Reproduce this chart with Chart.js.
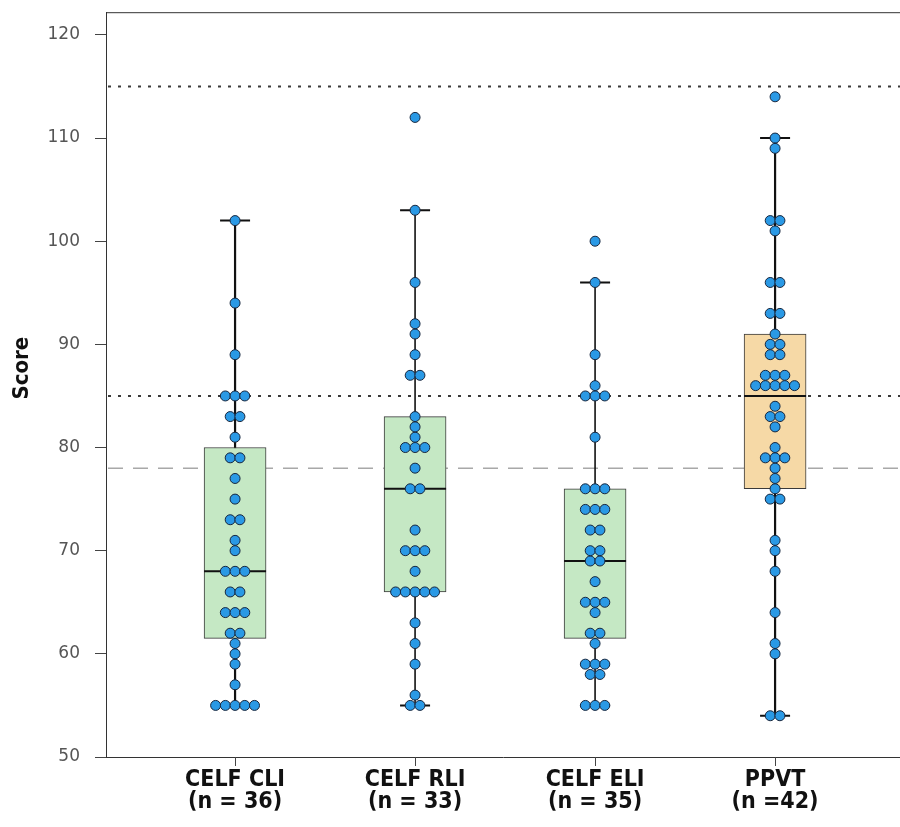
<!DOCTYPE html>
<html>
<head>
<meta charset="utf-8">
<script src="https://cdn.jsdelivr.net/npm/chart.js@4"></script>
<style>
  body { margin: 0; background: #fff; overflow: hidden; }
  #wrap { width: 900px; height: 827px; }
</style>
</head>
<body>
<div id="wrap"><canvas id="chart_canvas" width="900" height="827"></canvas></div>
<script>
// groups along the x axis
const categories = ['CELF CLI', 'CELF RLI', 'CELF ELI', 'PPVT'];
const nLabels = ['(n = 36)', '(n = 33)', '(n = 35)', '(n =42)'];

// individual scores, one entry per dot
const cliScores = [102, 94, 89, 85, 85, 85, 83, 83, 81, 79, 79, 77, 75, 73, 73, 71, 70,
    68, 68, 68, 66, 66, 64, 64, 64, 62, 62, 61, 60, 59, 57, 55, 55, 55, 55, 55];
const rliScores = [112, 103, 96, 92, 91, 89, 87, 87, 83, 82, 81, 80, 80, 80, 78, 76, 76,
    72, 70, 70, 70, 68, 66, 66, 66, 66, 66, 63, 61, 59, 56, 55, 55];
const eliScores = [100, 96, 89, 86, 85, 85, 85, 81, 76, 76, 76, 74, 74, 74, 72, 72, 70, 70,
    69, 69, 67, 65, 65, 65, 64, 62, 62, 61, 59, 59, 59, 58, 58, 55, 55, 55];
const ppvtScores = [114, 110, 109, 102, 102, 101, 96, 96, 93, 93, 91, 90, 90, 89, 89,
    87, 87, 87, 86, 86, 86, 86, 86, 84, 83, 83, 82, 80, 79, 79, 79, 78, 77, 76, 75, 75,
    71, 70, 68, 64, 61, 60, 54, 54];

// box plot summaries
const lowerQuartile = [61.5, 66, 61.5, 76];
const upperQuartile = [80, 83, 76, 91];
const medians = [68, 76, 69, 85];
const whiskerLow = [55, 55, 55, 54];
const whiskerHigh = [102, 103, 96, 110];

// reference lines
const dottedRefs = [115, 85];
const dashedRef = 78;

const yTicks = [50, 60, 70, 80, 90, 100, 110, 120];
const yTitle = 'Score';

const allScores = [cliScores, rliScores, eliScores, ppvtScores];
const boxColors = ['#c5e8c4', '#c5e8c4', '#c5e8c4', '#f6d9a6'];
const dotGap = 0.054; // horizontal spacing between stacked dots, in x units

// stack equal values side by side, centred on the group
var dots = [];
allScores.forEach(function(scores, g) {
    var counts = {};
    scores.forEach(function(v) { counts[v] = (counts[v] || 0) + 1; });
    Object.keys(counts).forEach(function(key) {
        var k = counts[key];
        for (var i = 0; i < k; i++) {
            dots.push({ x: g + 1 + (i - (k - 1) / 2) * dotGap, y: Number(key) });
        }
    });
});

var boxPlotDecor = {
    id: 'boxPlotDecor',
    beforeDatasetsDraw: function(chart) {
        var ctx = chart.ctx, area = chart.chartArea;
        var xs = chart.scales.x, ys = chart.scales.y;
        ctx.save();
        // frame top
        ctx.strokeStyle = '#333';
        ctx.lineWidth = 1;
        ctx.beginPath();
        ctx.moveTo(area.left, area.top + 0.5);
        ctx.lineTo(area.right, area.top + 0.5);
        ctx.stroke();
        // tick marks under the category axis
        ctx.strokeStyle = '#444';
        categories.forEach(function(c, i) {
            var x = Math.round(xs.getPixelForValue(i + 1)) + 0.5;
            ctx.beginPath();
            ctx.moveTo(x, area.bottom);
            ctx.lineTo(x, area.bottom + 9);
            ctx.stroke();
        });
        // reference lines
        ctx.lineWidth = 2;
        ctx.strokeStyle = '#3a3a3a';
        ctx.setLineDash([3, 7]);
        dottedRefs.forEach(function(v) {
            var y = ys.getPixelForValue(v);
            ctx.beginPath();
            ctx.moveTo(area.left + 2, y);
            ctx.lineTo(area.right, y);
            ctx.stroke();
        });
        ctx.lineWidth = 1.5;
        ctx.strokeStyle = '#a8a8a8';
        ctx.setLineDash([15, 10]);
        var yd = ys.getPixelForValue(dashedRef);
        ctx.beginPath();
        ctx.moveTo(area.left + 2, yd);
        ctx.lineTo(area.right, yd);
        ctx.stroke();
        ctx.setLineDash([]);
        // whiskers and caps
        ctx.strokeStyle = '#111';
        categories.forEach(function(c, i) {
            var x = xs.getPixelForValue(i + 1);
            var yLo = ys.getPixelForValue(whiskerLow[i]);
            var yHi = ys.getPixelForValue(whiskerHigh[i]);
            ctx.lineWidth = (i === 0 || i === 3) ? 2.2 : 1.6;
            ctx.beginPath();
            ctx.moveTo(x, yLo);
            ctx.lineTo(x, yHi);
            ctx.stroke();
            ctx.lineWidth = 2;
            ctx.beginPath();
            ctx.moveTo(x - 15, yLo);
            ctx.lineTo(x + 15, yLo);
            ctx.moveTo(x - 15, yHi);
            ctx.lineTo(x + 15, yHi);
            ctx.stroke();
        });
        ctx.restore();
    },
    afterDatasetDraw: function(chart, args) {
        if (args.meta.type !== 'bar') return;
        var ctx = chart.ctx;
        var ys = chart.scales.y;
        ctx.save();
        ctx.strokeStyle = '#111';
        ctx.lineWidth = 2;
        args.meta.data.forEach(function(bar, i) {
            var y = ys.getPixelForValue(medians[i]);
            ctx.beginPath();
            ctx.moveTo(bar.x - bar.width / 2, y);
            ctx.lineTo(bar.x + bar.width / 2, y);
            ctx.stroke();
        });
        ctx.restore();
    },
    afterDraw: function(chart) {
        // y axis title, sitting a little above the middle like the original
        var ctx = chart.ctx, area = chart.chartArea;
        ctx.save();
        ctx.translate(22, area.top + (area.bottom - area.top) * 0.478);
        ctx.rotate(-Math.PI / 2);
        ctx.fillStyle = '#111';
        ctx.font = "bold 22px 'DejaVu Sans Condensed', 'Liberation Sans', sans-serif";
        ctx.textAlign = 'center';
        ctx.textBaseline = 'middle';
        ctx.fillText(yTitle, 0, 0);
        ctx.restore();
    }
};

var context = document.getElementById('chart_canvas');
var boxChart = new Chart(context, {
    type: 'bar',
    data: {
        datasets: [
            {
                type: 'scatter',
                label: 'Scores',
                order: 0,
                data: dots,
                pointRadius: 5,
                pointHoverRadius: 5,
                pointBackgroundColor: '#2a99e5',
                pointBorderColor: '#17263d',
                pointBorderWidth: 1
            },
            {
                type: 'bar',
                label: 'Boxes',
                order: 1,
                data: categories.map(function(c, i) {
                    return { x: i + 1, y: [lowerQuartile[i], upperQuartile[i]] };
                }),
                backgroundColor: boxColors,
                borderColor: '#3a3a3a',
                borderWidth: 1,
                borderSkipped: false,
                barThickness: 62
            }
        ]
    },
    options: {
        responsive: false,
        animation: false,
        layout: { autoPadding: false, padding: { left: 0, right: 0, top: 10, bottom: 0 } },
        plugins: {
            legend: { display: false },
            tooltip: { enabled: false }
        },
        scales: {
            x: {
                type: 'linear',
                min: 0.283,
                max: 4.694,
                offset: false,
                afterBuildTicks: function(scale) {
                    scale.ticks = categories.map(function(c, i) { return { value: i + 1 }; });
                },
                afterFit: function(scale) {
                    scale.height = 70;
                    scale.paddingLeft = 0;
                    scale.paddingRight = 0;
                },
                ticks: {
                    autoSkip: false,
                    maxRotation: 0,
                    padding: 3,
                    color: '#111',
                    font: { family: "'DejaVu Sans Condensed', 'Liberation Sans', sans-serif", size: 23, weight: 'bold', lineHeight: 0.97 },
                    callback: function(value) {
                        var i = Math.round(value) - 1;
                        return [categories[i], nLabels[i]];
                    }
                },
                grid: {
                    offset: false,
                    drawOnChartArea: false,
                    drawTicks: true,
                    tickLength: 9,
                    tickColor: '#444'
                },
                border: { color: '#333', width: 1 }
            },
            y: {
                min: 50,
                max: 122.2,
                afterBuildTicks: function(scale) {
                    scale.ticks = yTicks.map(function(v) { return { value: v }; });
                },
                afterFit: function(scale) { scale.width = 106; },
                ticks: {
                    padding: 2,
                    color: '#555',
                    font: { family: "'DejaVu Sans', 'Liberation Sans', sans-serif", size: 17 }
                },
                grid: {
                    drawOnChartArea: false,
                    drawTicks: true,
                    tickLength: 24,
                    tickColor: '#444',
                    tickBorderDash: [0, 13, 11, 40]
                },
                border: { color: '#333', width: 1 }
            }
        }
    },
    plugins: [boxPlotDecor]
});
</script>
</body>
</html>
